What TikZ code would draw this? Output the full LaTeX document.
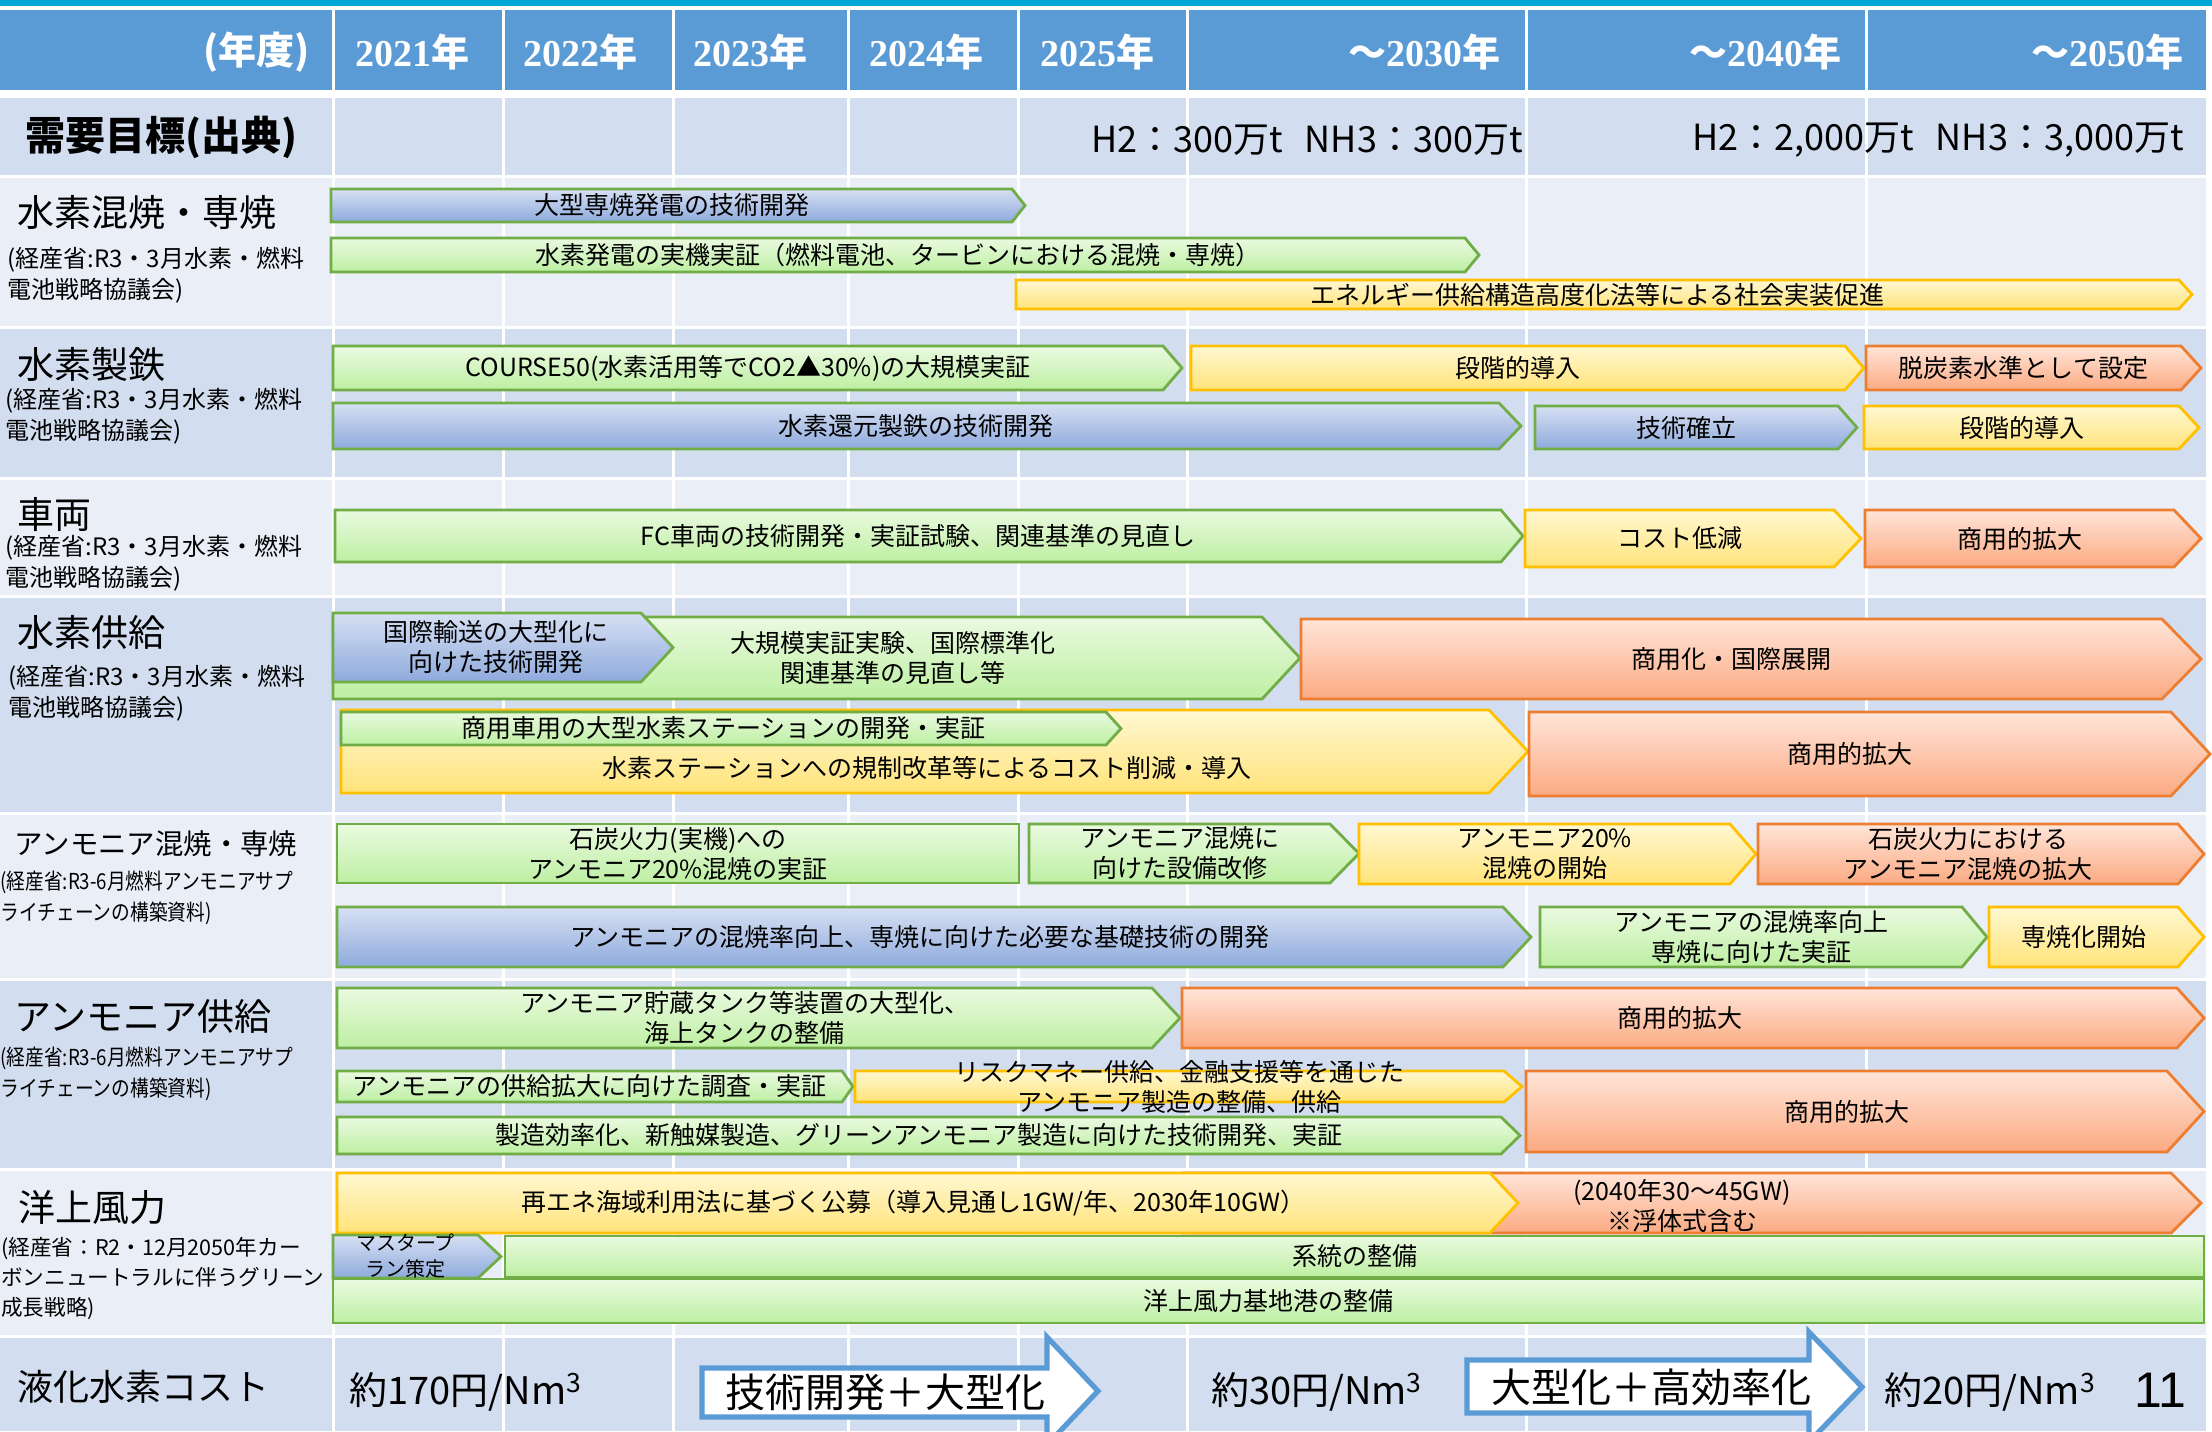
\documentclass[tikz,border=0pt]{standalone}
\usepackage{fontspec}
\newfontfamily\jp{Noto Sans CJK JP}
\newfontfamily\jpn[FakeStretch=0.85]{Noto Sans CJK JP}
\newfontfamily\sr{Liberation Serif}
\newfontfamily\ls{Liberation Sans}
\definecolor{topband}{HTML}{00A6D6}
\definecolor{hdr}{HTML}{5B9BD5}
\definecolor{bandA}{HTML}{D2DEEF}
\definecolor{bandB}{HTML}{EAEFF7}
\definecolor{gTop}{HTML}{EAFAE0}
\definecolor{gBot}{HTML}{BDEFA2}
\definecolor{gLine}{HTML}{70AD47}
\definecolor{bTop}{HTML}{D7E0F3}
\definecolor{bBot}{HTML}{8EAADC}
\definecolor{yTop}{HTML}{FFF8D2}
\definecolor{yBot}{HTML}{FFE37A}
\definecolor{yLine}{HTML}{FFC000}
\definecolor{oTop}{HTML}{FFE5D9}
\definecolor{oBot}{HTML}{FBAA82}
\definecolor{oLine}{HTML}{ED7D31}
\tikzset{
  bargreen/.style={draw=gLine, top color=gTop, bottom color=gBot, line width=1.4pt},
  barblue/.style={draw=gLine, top color=bTop, bottom color=bBot, line width=1.4pt},
  baryellow/.style={draw=yLine, top color=yTop, bottom color=yBot, line width=1.4pt},
  barorange/.style={draw=oLine, top color=oTop, bottom color=oBot, line width=1.4pt},
  arrtxt/.style={font=\fontsize{12.5}{15}\selectfont\jp, align=center, inner sep=0, text=black},
  hdrtxt/.style={font=\fontsize{19}{21}\selectfont, text=white, inner sep=0},
  rowlbl/.style={font=\fontsize{18.5}{22}\selectfont\jp, anchor=west, inner sep=0},
  srclbl/.style={font=\fontsize{12}{15.5}\selectfont\jp, anchor=west, align=left, inner sep=0},
  srcnarrow/.style={font=\fontsize{11}{15.5}\selectfont\jpn, anchor=west, align=left, inner sep=0},
  demtxt/.style={font=\fontsize{18}{22}\selectfont\jp, inner sep=0, anchor=east},
  valtxt/.style={font=\fontsize{19}{22}\selectfont\jp, inner sep=0},
  bigarr/.style={draw=hdr, fill=white, line width=2.6pt},
  bigtxt/.style={font=\fontsize{20}{24}\selectfont\jp, inner sep=0},
  colsep/.style={draw=white, line width=1.5pt}
}
% name, style, x0, y0, x-body-end, y1, x-tip, extra node options, text
\newcommand\arrowbar[9]{%
  \path[#2] (#3,#4) -- (#5,#4) -- (#7,{(#4+#6)/2}) -- (#5,#6) -- (#3,#6) -- cycle;
  \node[arrtxt,#8] (#1) at ({(#3+#5)/2},{(#4+#6)/2}) {#9};}
\begin{document}
\begin{tikzpicture}[x=0.5pt,y=-0.5pt]
\useasboundingbox (0,0) rectangle (2212,1431);
\fill[white] (0,0) rectangle (2212,1431);
% bands
\fill[topband] (0,0) rectangle (2212,6);
\fill[hdr] (0,10) rectangle (2206,90);
\fill[bandA] (0,98) rectangle (2206,175);
\fill[bandB] (0,178) rectangle (2206,326);
\fill[bandA] (0,329) rectangle (2206,477);
\fill[bandB] (0,480) rectangle (2206,595);
\fill[bandA] (0,598) rectangle (2206,812);
\fill[bandB] (0,815) rectangle (2206,978);
\fill[bandA] (0,981) rectangle (2206,1168);
\fill[bandB] (0,1171) rectangle (2206,1335);
\fill[bandA] (0,1338) rectangle (2206,1431);
\foreach \cx in {333,503,673,848,1018,1187,1526,1866}{
  \draw[colsep] (\cx,10) -- (\cx,1431);}
% header
\node[hdrtxt, anchor=east] (nendo) at (310,52) {\jp\bfseries (年度)};
\node[hdrtxt, anchor=west] (y21) at (355,52) {{\sr\bfseries 2021}{\jp\bfseries 年}};
\node[hdrtxt, anchor=west] (y22) at (523,52) {{\sr\bfseries 2022}{\jp\bfseries 年}};
\node[hdrtxt, anchor=west] (y23) at (693,52) {{\sr\bfseries 2023}{\jp\bfseries 年}};
\node[hdrtxt, anchor=west] (y24) at (869,52) {{\sr\bfseries 2024}{\jp\bfseries 年}};
\node[hdrtxt, anchor=west] (y25) at (1040,52) {{\sr\bfseries 2025}{\jp\bfseries 年}};
\node[hdrtxt, anchor=east] (y30) at (1501,52) {{\jp\bfseries ～}{\sr\bfseries 2030}{\jp\bfseries 年}};
\node[hdrtxt, anchor=east] (y40) at (1842,52) {{\jp\bfseries ～}{\sr\bfseries 2040}{\jp\bfseries 年}};
\node[hdrtxt, anchor=east] (y50) at (2184,52) {{\jp\bfseries ～}{\sr\bfseries 2050}{\jp\bfseries 年}};
% demand row
\node[font=\fontsize{20}{24}\selectfont\jp\bfseries, anchor=west, inner sep=0] (dem) at (25,137) {需要目標(出典)};
\node[demtxt] (d30) at (1523,140) {H2：300万t\hspace{0.6em}NH3：300万t};
\node[demtxt] (d50) at (2184,140) {H2：2,000万t\hspace{0.6em}NH3：3,000万t};
% row labels
\node[rowlbl] (l1) at (17,212) {水素混焼・専焼};
\node[srclbl] (s1) at (7,275.5) {(経産省:R3・3月水素・燃料\\電池戦略協議会)};
\node[rowlbl] (l2) at (17,364) {水素製鉄};
\node[srclbl] (s2) at (5,416.5) {(経産省:R3・3月水素・燃料\\電池戦略協議会)};
\node[rowlbl] (l3) at (17,515) {車両};
\node[srclbl] (s3) at (5,563.5) {(経産省:R3・3月水素・燃料\\電池戦略協議会)};
\node[rowlbl] (l4) at (17,632) {水素供給};
\node[srclbl] (s4) at (8,693.5) {(経産省:R3・3月水素・燃料\\電池戦略協議会)};
\node[rowlbl, font=\fontsize{14.2}{17}\selectfont\jp] (l5) at (14,844) {アンモニア混焼・専焼};
\node[srcnarrow] (s5) at (0,897.5) {(経産省:R3-6月燃料アンモニアサプ\\ライチェーンの構築資料)};
\node[rowlbl] (l6) at (14,1016) {アンモニア供給};
\node[srcnarrow] (s6) at (0,1073.5) {(経産省:R3-6月燃料アンモニアサプ\\ライチェーンの構築資料)};
\node[rowlbl] (l7) at (18,1207) {洋上風力};
\node[srclbl, font=\fontsize{10.8}{15}\selectfont\jp] (s7) at (1,1278) {(経産省：R2・12月2050年カー\\ボンニュートラルに伴うグリーン\\成長戦略)};
\node[rowlbl, font=\fontsize{18}{22}\selectfont\jp] (l8) at (17,1387) {液化水素コスト};
% row: hydrogen co-firing
\arrowbar{a1}{barblue}{331}{189}{1012}{222}{1025}{}{大型専焼発電の技術開発}
\arrowbar{a2}{bargreen}{331}{238}{1465}{272}{1479}{}{水素発電の実機実証（燃料電池、タービンにおける混焼・専焼）}
\arrowbar{a3}{baryellow}{1016}{280}{2179}{309}{2192}{}{エネルギー供給構造高度化法等による社会実装促進}
% row: hydrogen steel
\arrowbar{b1}{bargreen}{333}{346}{1163}{390}{1182}{}{COURSE50(水素活用等でCO2▲30\%)の大規模実証}
\arrowbar{b2}{baryellow}{1191}{346}{1845}{390}{1864}{}{段階的導入}
\arrowbar{b3}{barorange}{1866}{346}{2181}{390}{2201}{}{脱炭素水準として設定}
\arrowbar{b4}{barblue}{333}{403}{1499}{449}{1521}{}{水素還元製鉄の技術開発}
\arrowbar{b5}{barblue}{1535}{406}{1838}{449}{1857}{}{技術確立}
\arrowbar{b6}{baryellow}{1864}{406}{2179}{449}{2199}{}{段階的導入}
% row: vehicles
\arrowbar{c1}{bargreen}{335}{510}{1501}{562}{1523}{}{FC車両の技術開発・実証試験、関連基準の見直し}
\arrowbar{c2}{baryellow}{1525}{510}{1834}{567}{1861}{}{コスト低減}
\arrowbar{c3}{barorange}{1865}{510}{2174}{567}{2201}{}{商用的拡大}
% row: hydrogen supply
\arrowbar{d1}{bargreen}{333}{617}{1262}{699}{1300}{xshift=47.75pt}{大規模実証実験、国際標準化\\関連基準の見直し等}
\arrowbar{d2}{barblue}{333}{613}{641}{682}{673}{xshift=4.5pt}{国際輸送の大型化に\\向けた技術開発}
\arrowbar{d3}{barorange}{1301}{619}{2162}{699}{2201}{}{商用化・国際展開}
\arrowbar{d4}{baryellow}{341}{710}{1489}{793}{1528}{xshift=6pt,yshift=-8pt}{水素ステーションへの規制改革等によるコスト削減・導入}
\arrowbar{d5}{bargreen}{341}{712}{1106}{745}{1121}{}{商用車用の大型水素ステーションの開発・実証}
\arrowbar{d6}{barorange}{1529}{712}{2171}{796}{2210}{}{商用的拡大}
% row: ammonia co-firing
\arrowbar{e1}{bargreen}{337}{824}{1019}{883}{1019}{}{石炭火力(実機)への\\アンモニア20\%混焼の実証}
\arrowbar{e2}{bargreen}{1029}{824}{1330}{883}{1359}{}{アンモニア混焼に\\向けた設備改修}
\arrowbar{e3}{baryellow}{1359}{824}{1730}{884}{1756}{}{アンモニア20\%\\混焼の開始}
\arrowbar{e4}{barorange}{1758}{824}{2178}{884}{2204}{}{石炭火力における\\アンモニア混焼の拡大}
\arrowbar{e5}{barblue}{337}{907}{1503}{967}{1531}{}{アンモニアの混焼率向上、専焼に向けた必要な基礎技術の開発}
\arrowbar{e6}{bargreen}{1540}{907}{1962}{967}{1987}{}{アンモニアの混焼率向上\\専焼に向けた実証}
\arrowbar{e7}{baryellow}{1989}{907}{2178}{967}{2204}{}{専焼化開始}
% row: ammonia supply
\arrowbar{f1}{bargreen}{337}{988}{1152}{1048}{1180}{}{アンモニア貯蔵タンク等装置の大型化、\\海上タンクの整備}
\arrowbar{f2}{barorange}{1182}{988}{2177}{1048}{2204}{}{商用的拡大}
\arrowbar{f3}{bargreen}{337}{1071}{842}{1102}{853}{}{アンモニアの供給拡大に向けた調査・実証}
\arrowbar{f4}{baryellow}{855}{1071}{1504}{1102}{1522}{}{リスクマネー供給、金融支援等を通じた\\アンモニア製造の整備、供給}
\arrowbar{f5}{bargreen}{337}{1117}{1501}{1154}{1520}{}{製造効率化、新触媒製造、グリーンアンモニア製造に向けた技術開発、実証}
\arrowbar{f6}{barorange}{1526}{1071}{2167}{1152}{2204}{}{商用的拡大}
% row: offshore wind
\arrowbar{g0}{barorange}{1183}{1173}{2171}{1233}{2201}{xshift=2.5pt,yshift=-1.5pt}{(2040年30～45GW)\\※浮体式含む}
\arrowbar{g1}{baryellow}{337}{1173}{1490}{1233}{1518}{}{再エネ海域利用法に基づく公募（導入見通し1GW/年、2030年10GW）}
\arrowbar{g2}{barblue}{333}{1235}{478}{1278}{501}{font=\fontsize{10}{13}\selectfont\jp}{マスタープ\\ラン策定}
\arrowbar{g3}{bargreen}{505}{1236}{2204}{1277}{2204}{}{系統の整備}
\arrowbar{g4}{bargreen}{333}{1279}{2204}{1323}{2204}{}{洋上風力基地港の整備}
% row: liquefied hydrogen cost
\node[valtxt] (v1) at (466,1392) {約170円/Nm\textsuperscript{3}};
\path[bigarr] (702,1368) -- (1047,1368) -- (1047,1337) -- (1098,1391) -- (1047,1445) -- (1047,1417) -- (702,1417) -- cycle;
\node[bigtxt] (h1) at (885,1392) {技術開発＋大型化};
\node[valtxt] (v2) at (1317,1392) {約30円/Nm\textsuperscript{3}};
\path[bigarr] (1467,1360) -- (1809,1360) -- (1809,1332) -- (1862,1387) -- (1809,1442) -- (1809,1413) -- (1467,1413) -- cycle;
\node[bigtxt] (h2) at (1651,1387) {大型化＋高効率化};
\node[valtxt] (v3) at (1990,1392) {約20円/Nm\textsuperscript{3}};
\node[font=\fontsize{25}{30}\selectfont\ls, inner sep=0] (pg) at (2160,1390) {11};
\end{tikzpicture}
\end{document}
